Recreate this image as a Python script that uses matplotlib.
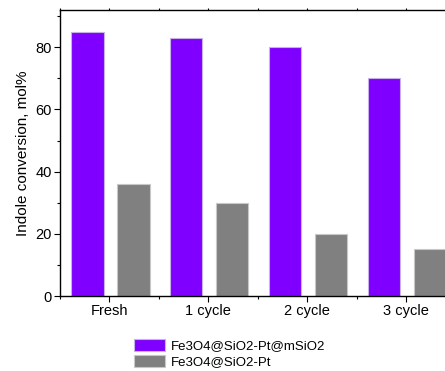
import matplotlib.pyplot as plt
from matplotlib.ticker import MultipleLocator
import numpy as np

categories = ["Fresh", "1 cycle", "2 cycle", "3 cycle"]
core_shell = [85, 83, 80, 70]
supported = [36, 30, 20, 15]
labels = ["Fe3O4@SiO2-Pt@mSiO2", "Fe3O4@SiO2-Pt"]

plt.rcParams['font.family'] = ['Liberation Sans', 'DejaVu Sans']

fig = plt.figure(figsize=(4.45, 3.71), dpi=100)
ax = fig.add_axes([60 / 445, 1 - 296 / 371, 1 - 60 / 445 + 0.002, 286 / 371])

x = np.arange(len(categories))
w = 0.33
b1 = ax.bar(x - 0.225, core_shell, w, color="#8000ff", edgecolor="#c8b0e8", linewidth=0.8, label=labels[0])
b2 = ax.bar(x + 0.24, supported, w, color="#808080", edgecolor="#c8c8c8", linewidth=0.8, label=labels[1])

ax.set_xlim(-0.5, 3.4)
ax.set_ylim(0, 92)
ax.set_xticks(x)
ax.set_xticklabels(categories, fontsize=10.5)
ax.xaxis.set_minor_locator(MultipleLocator(1, offset=0.5))
ax.yaxis.set_major_locator(MultipleLocator(20))
ax.yaxis.set_minor_locator(MultipleLocator(10))
ax.tick_params(axis="both", which="major", direction="out", length=4, width=0.8, labelsize=10.5, pad=2)
ax.tick_params(axis="both", which="minor", direction="out", length=2.5, width=0.8)
ax.tick_params(axis="x", which="both", top=True)
for t in ax.xaxis.get_major_ticks() + ax.xaxis.get_minor_ticks():
    t.tick2line.set_markersize(1.2)
ax.set_ylabel("Indole conversion, mol%", fontsize=11, labelpad=4)
for s in ax.spines.values():
    s.set_linewidth(1.0)

fig.legend(handles=[b1, b2], labels=labels, loc="lower left",
           bbox_to_anchor=(131 / 445, 0.0), frameon=False, fontsize=9.5,
           handlelength=2.4, handleheight=1.1, handletextpad=0.45,
           labelspacing=0.15, borderpad=0.1, borderaxespad=0.1)

fig.savefig("out.png", dpi=100)
